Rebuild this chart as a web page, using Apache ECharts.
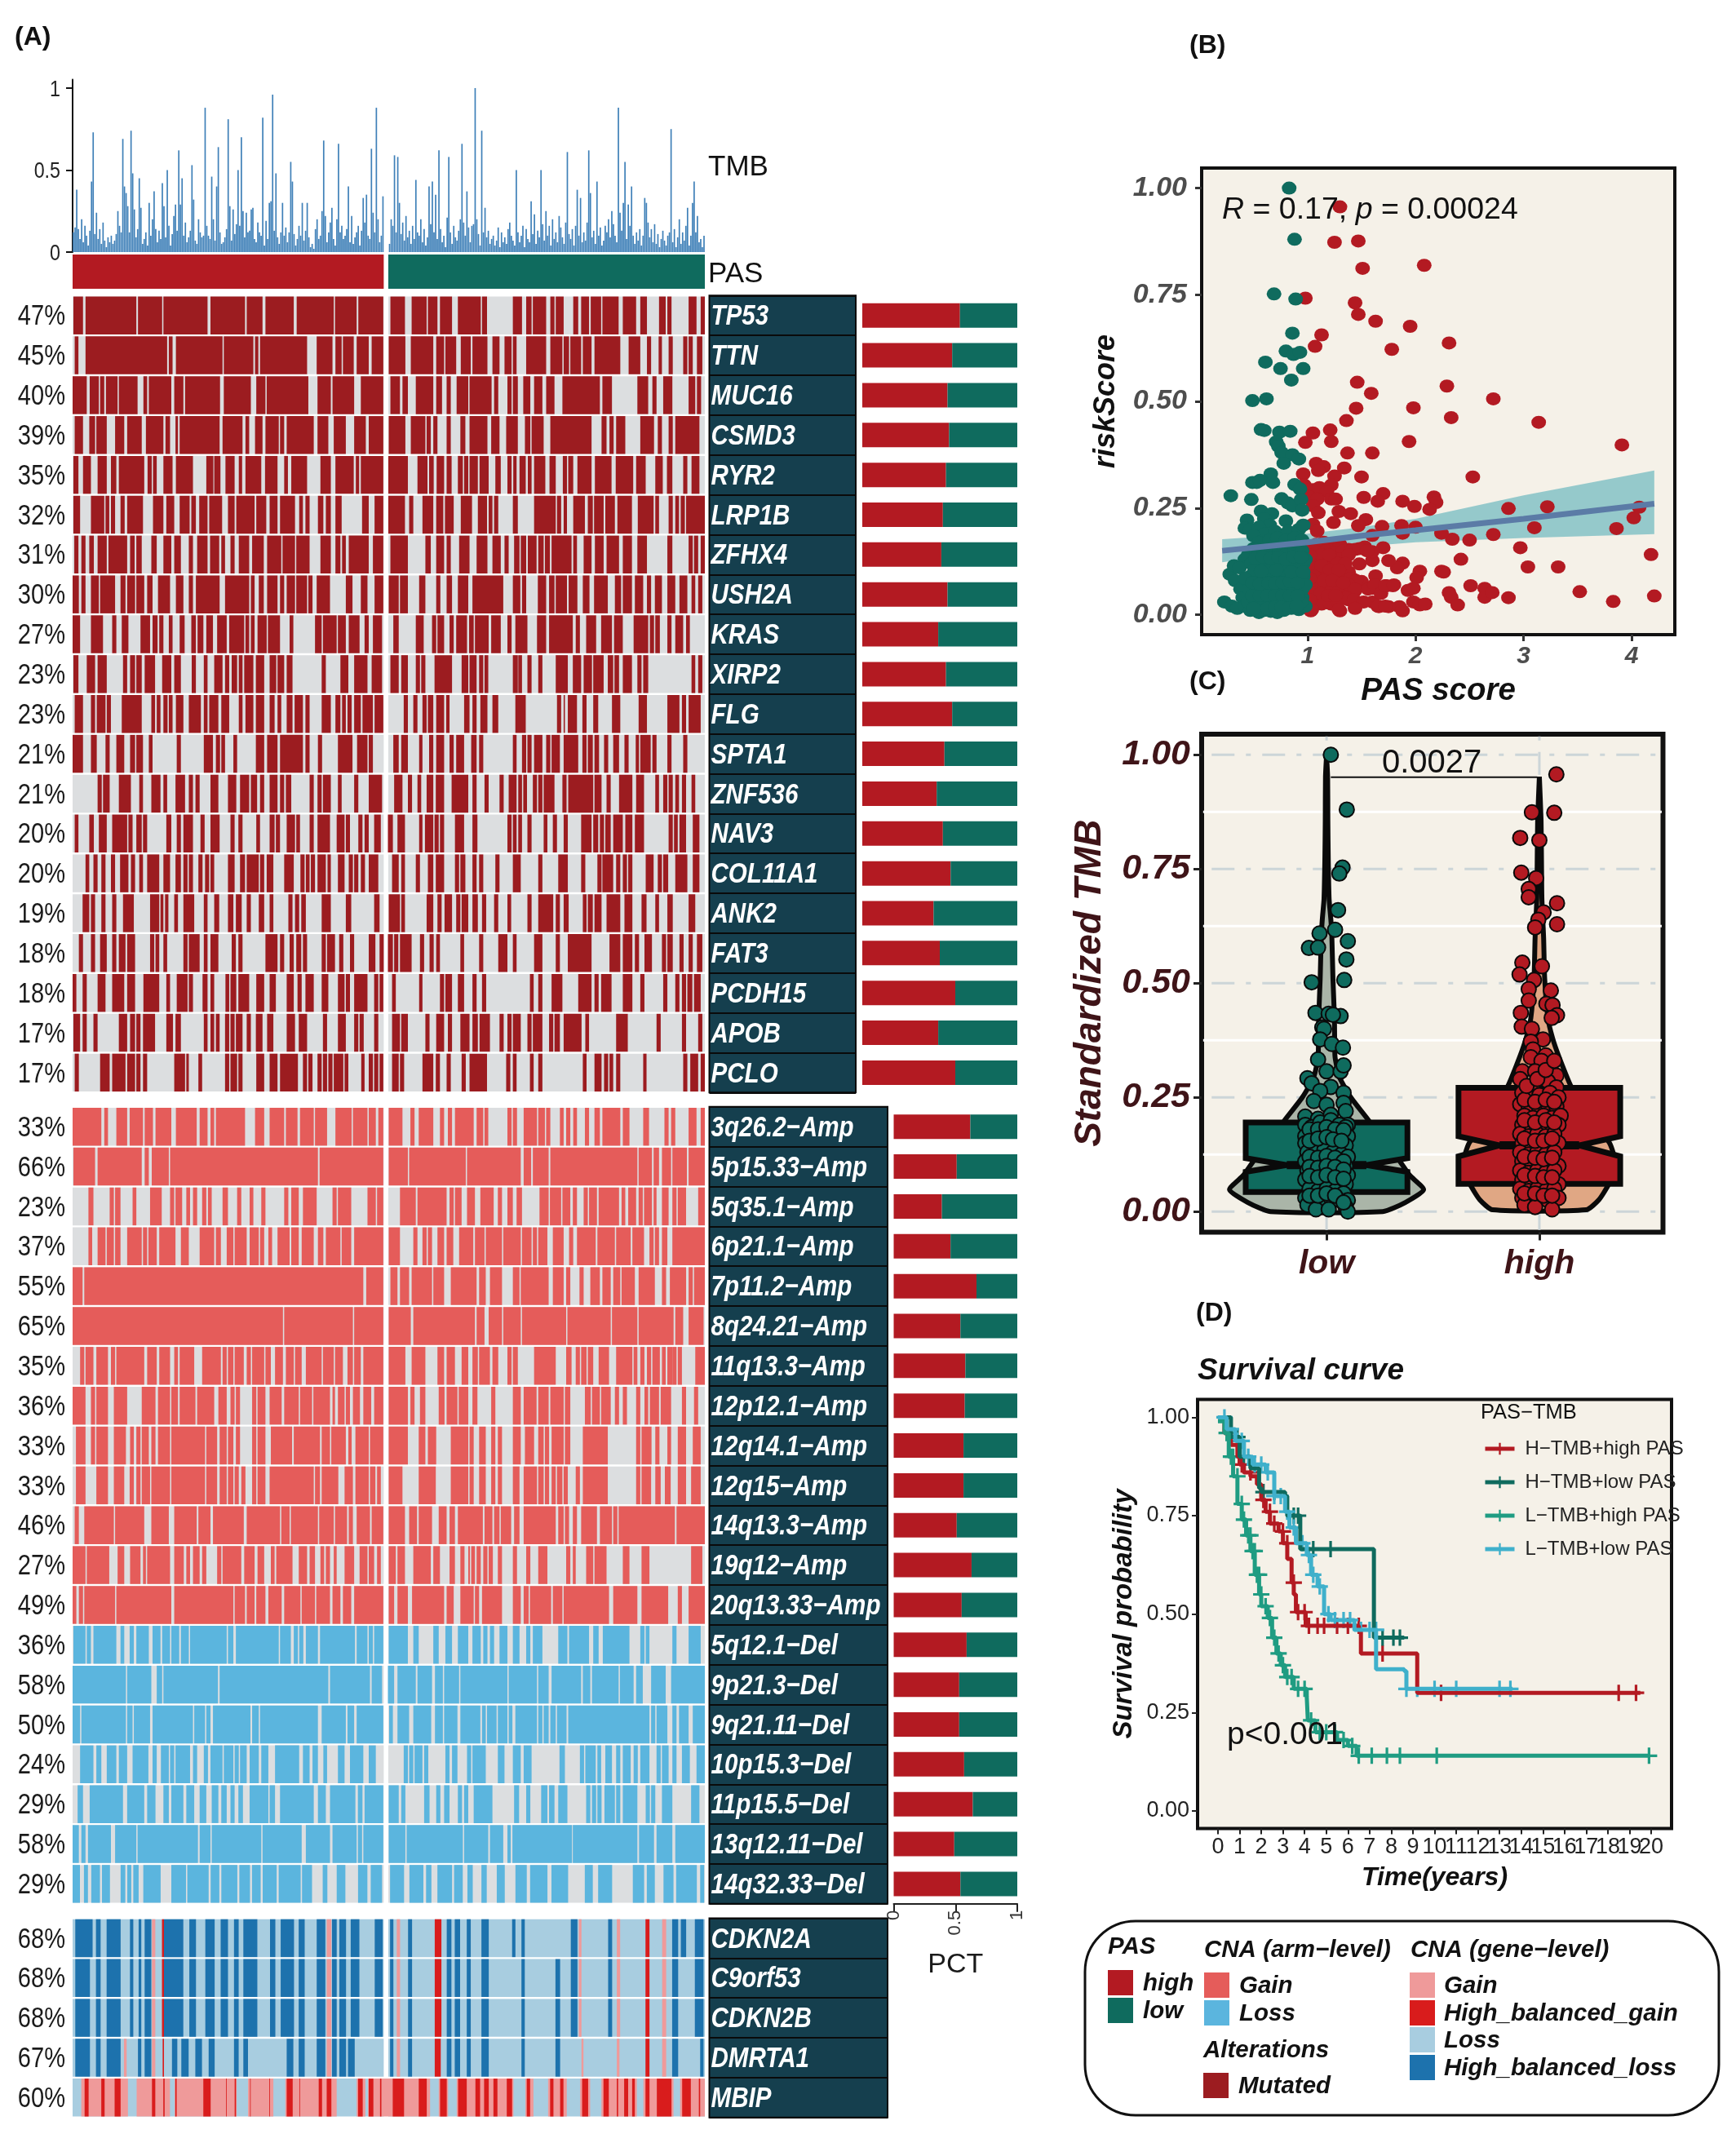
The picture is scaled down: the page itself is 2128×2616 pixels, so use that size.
<!DOCTYPE html>
<html>
<head>
<meta charset="utf-8">
<title>Oncoprint, scatter, violin and survival</title>
<script src="https://cdn.jsdelivr.net/npm/echarts@6/dist/echarts.min.js"></script>
<style>
html, body { margin: 0; padding: 0; background: #fff; }
#chart { width: 2128px; height: 2616px; }
</style>
</head>
<body>
<div id="chart"></div>
<script>
// ---------- data ----------
var tmbHigh = [
.12,.15,.38,.14,.08,.2,.06,.16,.1,.04,.13,.43,.73,.11,.24,.08,.14,.05,.18,.07,
.03,.09,.06,.1,.05,.07,.11,.25,.16,.12,.69,.4,.36,.28,.12,.74,.48,.26,.09,.14,
.45,.27,.05,.08,.12,.04,.3,.1,.2,.37,.14,.06,.13,.08,.42,.28,.09,.5,.16,.04,
.11,.22,.29,.13,.62,.29,.45,.1,.18,.06,.09,.13,.53,.32,.07,.05,.2,.12,.09,.1,
.88,.16,.1,.08,.46,.2,.07,.4,.64,.12,.05,.06,.09,.14,.81,.28,.07,.26,.11,.17,
.5,.16,.7,.25,.09,.24,.12,.13,.26,.27,.08,.06,.18,.12,.1,.82,.04,.19,.08,.3,
.31,.96,.13,.48,.09,.05,.12,.3,.1,.15,.06,.12,.55,.43,.11,.04,.08,.16,.1,.3,
.07,.13,.3,.09,.03,.05,.02,.14,.2,.08,.1,.25,.68,.22,.06,.12,.18,.27,.08,.04,
.2,.66,.12,.16,.08,.1,.14,.4,.06,.22,.05,.09,.12,.16,.04,.13,.33,.18,.35,.1,
.08,.63,.24,.12,.88,.2,.06,.1,.34];
var tmbLow = [
.05,.2,.16,.59,.12,.58,.3,.11,.18,.07,.22,.09,.13,.05,.16,.08,.44,.12,.1,.2,
.06,.14,.04,.09,.4,.17,.43,.12,.35,.08,.62,.14,.06,.1,.03,.21,.58,.12,.05,.16,
.09,.07,.13,.2,.66,.18,.1,.37,.15,.06,.16,.17,1,.2,.11,.04,.74,.12,.27,.09,
.13,.05,.08,.1,.04,.07,.15,.03,.12,.06,.09,.05,.14,.18,.1,.07,.04,.5,.12,.06,
.1,.16,.03,.14,.08,.06,.31,.11,.23,.05,.13,.09,.5,.17,.07,.25,.1,.16,.04,.2,
.08,.12,.06,.22,.15,.09,.05,.18,.61,.11,.08,.14,.04,.16,.38,.1,.33,.06,.12,.07,
.18,.62,.36,.09,.13,.05,.43,.1,.15,.04,.07,.16,.12,.2,.09,.25,.17,.1,.06,.88,
.24,.13,.3,.55,.08,.29,.16,.4,.1,.05,.12,.07,.14,.04,.1,.33,.3,.18,.09,.14,
.06,.17,.05,.11,.03,.08,.13,.07,.04,.1,.12,.75,.06,.14,.03,.09,.2,.05,.12,.07,
.16,.27,.04,.1,.3,.43,.12,.22,.06,.08,.03,.1];

var mutGenes = ['TP53','TTN','MUC16','CSMD3','RYR2','LRP1B','ZFHX4','USH2A','KRAS','XIRP2','FLG','SPTA1','ZNF536','NAV3','COL11A1','ANK2','FAT3','PCDH15','APOB','PCLO'];
var mutPct = ['47%','45%','40%','39%','35%','32%','31%','30%','27%','23%','23%','21%','21%','20%','20%','19%','18%','18%','17%','17%'];
var mutHighShare = [.63,.58,.55,.56,.54,.52,.51,.55,.49,.54,.58,.53,.48,.52,.57,.46,.50,.60,.49,.60];

// mutated stretches along the sample axis (high group up to 765, low group from 776)
var mutRuns = [
[[20,43],[49,171],[175,233],[236,342],[349,432],[436,474],[481,549],[556,645],[648,700],[704,764],[781,816],[832,868],[871,894],[900,929],[943,998],[1001,1013],[1075,1097],[1107,1120],[1123,1155],[1165,1175],[1178,1197],[1220,1232],[1239,1258],[1262,1287],[1290,1329],[1339,1371],[1381,1397],[1426,1442],[1446,1456],[1497,1516],[1526,1536]],
[[23,32],[49,245],[249,258],[266,378],[381,452],[456,464],[468,581],[604,642],[649,664],[667,693],[700,729],[736,764],[777,817],[830,884],[891,910],[913,939],[950,974],[978,1014],[1026,1043],[1055,1072],[1075,1084],[1107,1155],[1165,1194],[1197,1210],[1213,1239],[1243,1264],[1271,1333],[1353,1381],[1397,1407],[1425,1433],[1449,1459],[1484,1494],[1497,1507],[1517,1530]],
[[18,52],[59,81],[84,94],[98,126],[129,174],[188,197],[201,255],[262,284],[288,372],[381,446],[459,481],[484,584],[606,638],[642,694],[710,764],[781,804],[810,823],[842,884],[891,905],[916,926],[940,968],[971,1024],[1030,1040],[1062,1072],[1075,1087],[1100,1117],[1126,1146],[1155,1175],[1194,1284],[1290,1313],[1374,1400],[1410,1420],[1436,1458],[1497,1513],[1517,1527]],
[[23,43],[58,72],[75,100],[120,142],[149,184],[194,236],[241,252],[265,271],[275,371],[378,426],[433,442],[456,474],[481,513],[516,526],[532,597],[606,632],[645,674],[694,722],[729,764],[777,817],[830,865],[868,878],[884,894],[916,926],[949,961],[971,1014],[1023,1043],[1059,1087],[1104,1117],[1120,1149],[1165,1264],[1288,1300],[1307,1317],[1323,1345],[1381,1414],[1423,1433],[1449,1459],[1465,1523]],
[[20,32],[43,62],[78,100],[110,123],[129,190],[198,208],[211,220],[236,258],[266,307],[339,356],[358,373],[385,407],[417,425],[433,471],[480,510],[526,535],[543,581],[613,638],[649,693],[698,706],[710,764],[776,823],[846,870],[874,885],[892,910],[916,928],[943,955],[958,968],[971,991],[995,1017],[1033,1046],[1062,1072],[1076,1084],[1091,1106],[1111,1120],[1126,1153],[1163,1178],[1195,1205],[1208,1220],[1230,1264],[1272,1312],[1322,1364],[1371,1394],[1417,1435],[1445,1458],[1484,1494],[1504,1523]],
[[20,36],[62,94],[97,106],[110,120],[133,143],[149,187],[211,236],[243,262],[275,299],[303,314],[322,342],[346,377],[391,407],[411,455],[459,483],[491,510],[516,552],[562,571],[577,587],[607,620],[626,638],[649,664],[713,729],[743,764],[776,816],[826,836],[858,884],[891,908],[912,933],[950,977],[991,1013],[1017,1026],[1030,1040],[1075,1087],[1126,1178],[1181,1191],[1197,1205],[1220,1248],[1255,1267],[1270,1293],[1297,1320],[1326,1361],[1375,1413],[1417,1426],[1449,1459],[1465,1474],[1478,1488],[1491,1536]],
[[22,32],[39,49],[58,69],[78,100],[104,149],[156,167],[171,184],[207,220],[236,255],[262,278],[297,307],[317,342],[348,370],[375,384],[397,407],[417,442],[449,477],[485,519],[522,552],[555,587],[613,638],[649,661],[665,674],[681,729],[739,764],[781,823],[865,878],[891,910],[916,926],[946,971],[988,1014],[1026,1046],[1055,1065],[1078,1091],[1094,1107],[1111,1132],[1136,1149],[1152,1164],[1168,1216],[1220,1229],[1245,1264],[1272,1293],[1300,1330],[1339,1361],[1374,1397],[1446,1458],[1497,1507],[1510,1520],[1526,1536]],
[[18,33],[39,49],[62,81],[84,120],[133,145],[149,168],[171,190],[197,210],[223,252],[266,284],[297,307],[314,371],[384,442],[446,455],[465,477],[485,510],[516,526],[532,552],[555,581],[584,594],[604,636],[674,690],[710,726],[743,764],[777,801],[804,823],[850,865],[891,901],[916,929],[943,968],[978,1052],[1075,1093],[1097,1107],[1135,1155],[1162,1175],[1178,1205],[1209,1230],[1243,1259],[1270,1303],[1320,1335],[1339,1361],[1368,1388],[1397,1407],[1416,1433],[1446,1465],[1475,1494],[1504,1513],[1520,1530]],
[[18,36],[62,91],[113,123],[136,152],[181,204],[210,222],[226,236],[249,258],[275,287],[303,314],[318,332],[339,355],[365,388],[394,430],[433,442],[446,455],[462,484],[487,516],[539,548],[600,616],[619,652],[655,674],[681,707],[719,729],[739,761],[788,801],[842,861],[881,891],[894,910],[923,933],[939,965],[970,981],[984,1017],[1023,1046],[1062,1072],[1081,1110],[1133,1155],[1162,1219],[1226,1236],[1251,1275],[1287,1313],[1318,1339],[1365,1400],[1404,1414],[1417,1428],[1446,1456],[1465,1484],[1491,1500]],
[[20,32],[52,72],[78,100],[139,149],[156,168],[171,184],[191,216],[233,255],[262,278],[304,314],[333,342],[358,378],[384,394],[400,413],[417,426],[430,452],[458,478],[491,507],[510,526],[532,546],[616,626],[661,680],[694,726],[736,761],[781,801],[807,823],[842,852],[855,865],[887,929],[952,968],[971,988],[994,1004],[1007,1016],[1075,1087],[1088,1097],[1110,1120],[1136,1146],[1178,1207],[1219,1239],[1245,1265],[1268,1293],[1303,1316],[1319,1330],[1339,1361],[1374,1384],[1388,1400],[1504,1513],[1520,1530]],
[[23,43],[62,72],[76,97],[100,110],[136,184],[207,216],[220,229],[236,246],[249,258],[266,284],[297,326],[333,342],[346,368],[375,394],[417,426],[433,452],[458,478],[491,503],[510,519],[532,546],[551,571],[577,587],[616,638],[649,661],[665,674],[678,688],[694,710],[714,739],[743,764],[813,823],[836,846],[858,868],[871,884],[891,910],[915,923],[958,971],[978,988],[997,1014],[1026,1040],[1081,1106],[1181,1191],[1197,1200],[1207,1229],[1242,1252],[1268,1280],[1313,1333],[1377,1397],[1446,1475],[1481,1491],[1497,1526]],
[[18,43],[62,76],[97,107],[123,142],[156,168],[171,187],[201,210],[268,278],[333,355],[362,372],[375,384],[404,413],[458,478],[485,510],[516,571],[577,587],[607,617],[655,690],[701,726],[729,739],[788,801],[807,823],[850,858],[874,884],[891,910],[923,933],[939,958],[975,988],[994,1004],[1075,1084],[1097,1107],[1110,1120],[1126,1146],[1155,1165],[1168,1188],[1197,1232],[1242,1252],[1255,1267],[1271,1282],[1294,1304],[1316,1330],[1343,1353],[1370,1378],[1381,1406],[1410,1420],[1446,1456],[1484,1494]],
[[78,88],[91,107],[129,158],[178,187],[207,229],[236,245],[265,288],[297,307],[313,323],[349,368],[391,411],[420,442],[446,461],[468,478],[491,510],[516,526],[530,543],[587,597],[606,616],[619,638],[655,664],[694,704],[729,761],[790,810],[823,833],[846,855],[868,884],[890,910],[928,968],[978,988],[1007,1017],[1043,1053],[1065,1084],[1088,1097],[1100,1109],[1123,1133],[1136,1146],[1149,1175],[1194,1204],[1208,1268],[1271,1288],[1300,1310],[1330,1362],[1371,1390],[1417,1426],[1436,1446],[1449,1459],[1465,1474],[1481,1491],[1504,1513]],
[[23,32],[58,69],[81,100],[113,149],[152,162],[171,184],[187,197],[243,255],[268,278],[284,307],[325,335],[349,371],[397,407],[416,426],[459,468],[491,503],[506,516],[532,552],[555,564],[587,597],[606,636],[652,671],[674,684],[704,714],[719,729],[742,758],[775,787],[798,816],[850,858],[864,884],[887,897],[900,910],[936,958],[978,990],[1062,1072],[1075,1084],[1088,1097],[1110,1120],[1149,1158],[1171,1181],[1197,1207],[1239,1264],[1268,1280],[1284,1294],[1297,1310],[1316,1339],[1345,1362],[1368,1390],[1449,1459],[1462,1471],[1475,1491],[1507,1523]],
[[49,58],[68,78],[87,97],[110,120],[132,152],[158,168],[178,187],[197,226],[236,252],[265,278],[284,294],[297,307],[320,330],[336,346],[349,358],[391,407],[420,432],[436,465],[468,478],[484,500],[526,549],[565,575],[578,587],[590,600],[606,626],[630,638],[655,671],[681,691],[694,704],[710,720],[729,752],[785,801],[807,816],[842,852],[871,884],[890,910],[936,946],[949,961],[978,988],[994,1004],[1033,1043],[1075,1094],[1136,1146],[1184,1207],[1239,1249],[1278,1288],[1290,1316],[1323,1333],[1339,1349],[1352,1362],[1394,1413],[1423,1433],[1436,1448],[1465,1494],[1507,1523]],
[[42,58],[62,72],[87,97],[113,123],[139,165],[204,226],[229,236],[240,248],[262,271],[284,310],[333,342],[358,370],[391,404],[410,424],[436,446],[465,478],[491,500],[536,546],[552,562],[567,578],[616,638],[674,687],[742,755],[777,804],[807,816],[868,884],[894,904],[911,929],[939,949],[952,968],[978,991],[1001,1011],[1030,1040],[1062,1071],[1110,1120],[1136,1172],[1178,1188],[1197,1209],[1243,1252],[1255,1267],[1271,1288],[1300,1333],[1343,1362],[1384,1396],[1417,1426],[1446,1459],[1497,1513]],
[[33,43],[62,72],[84,100],[113,123],[129,145],[149,168],[204,214],[217,226],[236,245],[284,294],[297,323],[333,342],[349,368],[400,410],[416,426],[481,510],[516,526],[539,549],[555,567],[571,581],[616,626],[629,648],[658,668],[684,694],[729,745],[755,765],[775,787],[790,800],[804,832],[852,862],[875,885],[891,900],[949,958],[994,1004],[1040,1062],[1075,1084],[1126,1146],[1178,1188],[1207,1264],[1307,1333],[1339,1362],[1368,1378],[1391,1409],[1433,1443],[1446,1459],[1475,1485],[1497,1507],[1517,1530]],
[[18,27],[42,52],[78,97],[113,142],[149,168],[188,226],[243,252],[268,294],[297,307],[330,342],[349,358],[385,394],[397,411],[416,442],[459,478],[491,506],[532,549],[558,568],[577,597],[616,632],[655,671],[674,684],[694,726],[742,752],[755,764],[785,794],[850,858],[900,910],[913,929],[943,958],[978,988],[1001,1011],[1116,1125],[1136,1146],[1168,1194],[1232,1264],[1271,1281],[1287,1312],[1339,1362],[1381,1391],[1436,1446],[1465,1475],[1481,1491],[1494,1506],[1510,1526]],
[[20,36],[42,52],[68,78],[129,149],[156,168],[171,181],[187,216],[243,259],[265,278],[333,342],[349,358],[362,371],[384,394],[397,407],[410,426],[436,446],[458,474],[485,500],[532,552],[561,581],[619,629],[655,674],[694,704],[707,717],[742,752],[785,804],[807,823],[865,875],[891,910],[919,929],[949,971],[978,991],[995,1020],[1043,1053],[1062,1072],[1075,1094],[1110,1120],[1123,1146],[1162,1172],[1175,1188],[1197,1240],[1249,1258],[1323,1351],[1420,1430],[1481,1491],[1520,1530]],
[[23,33],[84,107],[113,145],[149,168],[171,181],[187,197],[262,288],[291,297],[320,329],[384,394],[397,413],[416,426],[459,478],[491,510],[516,559],[571,581],[584,594],[606,616],[619,629],[632,642],[645,668],[671,680],[711,719],[729,739],[742,752],[755,764],[785,801],[804,814],[858,884],[890,900],[916,926],[952,962],[971,1013],[1059,1069],[1075,1084],[1116,1125],[1136,1146],[1243,1252],[1271,1288],[1294,1304],[1307,1316],[1323,1333],[1388,1396],[1484,1494],[1501,1520],[1526,1536]]
];

var armNames = ['3q26.2\u2212Amp','5p15.33\u2212Amp','5q35.1\u2212Amp','6p21.1\u2212Amp','7p11.2\u2212Amp','8q24.21\u2212Amp','11q13.3\u2212Amp','12p12.1\u2212Amp','12q14.1\u2212Amp','12q15\u2212Amp','14q13.3\u2212Amp','19q12\u2212Amp','20q13.33\u2212Amp','5q12.1\u2212Del','9p21.3\u2212Del','9q21.11\u2212Del','10p15.3\u2212Del','11p15.5\u2212Del','13q12.11\u2212Del','14q32.33\u2212Del'];
var armPct = ['33%','66%','23%','37%','55%','65%','35%','36%','33%','33%','46%','27%','49%','36%','58%','50%','24%','29%','58%','29%'];
var armHighShare = [.62,.51,.39,.46,.67,.54,.58,.575,.565,.565,.51,.63,.55,.59,.53,.53,.57,.64,.49,.54];

var armGainRuns = [
[[18,87],[94,103],[123,149],[155,187],[191,211],[217,255],[266,316],[323,342],[349,358],[362,432],[456,478],[491,526],[530,558],[564,597],[600,629],[649,688],[691,726],[729,746],[752,764],[777,810],[829,839],[849,884],[900,910],[919,929],[936,981],[988,1004],[1007,1016],[1062,1072],[1075,1085],[1101,1133],[1136,1152],[1155,1165],[1188,1197],[1203,1213],[1220,1229],[1248,1258],[1271,1284],[1290,1333],[1339,1355],[1388,1402],[1439,1449],[1455,1465],[1497,1516],[1526,1536]],
[[20,72],[78,184],[191,201],[208,249],[252,607],[611,764],[777,823],[826,962],[965,1094],[1101,1119],[1123,1161],[1165,1374],[1377,1409],[1413,1426],[1433,1455],[1458,1493],[1497,1536]],
[[56,68],[107,117],[120,133],[162,171],[204,232],[252,262],[265,281],[291,300],[307,317],[329,339],[343,352],[378,391],[413,423],[443,452],[471,481],[526,536],[543,561],[571,604],[642,652],[655,687],[726,746],[749,764],[804,842],[846,916],[923,933],[936,952],[965,984],[997,1029],[1039,1049],[1062,1075],[1084,1097],[1139,1161],[1164,1191],[1194,1213],[1219,1229],[1245,1255],[1258,1277],[1281,1330],[1336,1345],[1352,1371],[1377,1387],[1390,1409],[1413,1420],[1433,1449],[1458,1468],[1471,1491],[1520,1536]],
[[56,65],[78,97],[100,117],[120,133],[149,184],[187,197],[200,220],[226,265],[278,297],[323,358],[362,374],[388,404],[407,436],[443,465],[468,478],[488,497],[510,539],[543,561],[568,597],[607,620],[626,661],[664,687],[694,764],[777,804],[836,846],[858,868],[871,881],[894,910],[916,932],[946,980],[984,1007],[1010,1049],[1052,1094],[1097,1120],[1123,1133],[1136,1158],[1171,1197],[1210,1220],[1229,1274],[1278,1320],[1323,1358],[1362,1390],[1403,1413],[1416,1426],[1433,1446],[1458,1536]],
[[18,42],[46,716],[723,764],[781,798],[804,826],[832,881],[884,910],[926,988],[994,1010],[1020,1049],[1075,1091],[1094,1161],[1171,1197],[1203,1213],[1235,1245],[1261,1284],[1290,1310],[1316,1333],[1336,1368],[1377,1416],[1433,1443],[1452,1491],[1497,1507],[1510,1536]],
[[18,523],[526,691],[694,764],[777,830],[836,984],[988,1007],[1017,1049],[1052,1094],[1097,1203],[1206,1310],[1313,1374],[1377,1461],[1465,1484],[1497,1533]],
[[36,46],[49,68],[75,103],[110,120],[123,190],[197,220],[226,252],[262,271],[275,310],[329,374],[378,388],[391,404],[407,429],[436,446],[449,478],[481,494],[504,523],[530,549],[552,568],[578,616],[619,645],[648,667],[678,691],[694,710],[716,764],[777,817],[832,865],[894,910],[916,936],[952,968],[978,991],[994,1020],[1026,1040],[1062,1072],[1075,1087],[1126,1178],[1203,1216],[1226,1236],[1239,1252],[1255,1268],[1281,1306],[1323,1362],[1365,1374],[1381,1391],[1397,1407],[1410,1428],[1433,1442],[1446,1458],[1458,1468],[1471,1481],[1513,1536]],
[[18,49],[62,72],[75,103],[117,149],[184,217],[223,252],[255,271],[275,313],[317,358],[368,388],[397,407],[410,420],[449,459],[462,481],[491,520],[526,561],[564,593],[596,636],[642,648],[655,671],[674,684],[691,708],[716,735],[742,764],[777,823],[829,839],[852,865],[897,911],[916,942],[945,968],[978,990],[1023,1033],[1075,1094],[1101,1132],[1136,1161],[1165,1197],[1200,1213],[1248,1262],[1265,1284],[1287,1310],[1320,1330],[1339,1349],[1371,1381],[1391,1400],[1404,1426],[1430,1455],[1481,1491],[1510,1520]],
[[26,49],[62,72],[75,103],[117,146],[156,165],[171,181],[184,201],[207,217],[223,252],[255,336],[339,365],[371,388],[391,404],[410,420],[449,459],[462,481],[494,545],[549,612],[616,636],[639,674],[680,688],[697,729],[732,764],[777,823],[849,865],[871,891],[926,968],[971,981],[994,1010],[1023,1033],[1039,1049],[1075,1094],[1104,1126],[1136,1149],[1152,1162],[1168,1197],[1200,1213],[1243,1303],[1371,1381],[1384,1408],[1417,1427],[1446,1455],[1471,1491],[1507,1526]],
[[26,49],[75,103],[117,142],[155,165],[171,181],[184,204],[207,252],[255,336],[339,365],[371,388],[391,404],[407,417],[423,433],[449,459],[462,481],[491,597],[600,612],[616,656],[671,691],[697,729],[732,745],[749,758],[777,810],[849,890],[926,968],[971,981],[994,1010],[1023,1033],[1039,1049],[1075,1091],[1101,1133],[1136,1149],[1152,1162],[1168,1178],[1181,1194],[1197,1207],[1226,1236],[1243,1303],[1371,1381],[1384,1407],[1417,1430],[1440,1454],[1471,1491],[1503,1526]],
[[23,33],[46,117],[120,190],[207,249],[262,316],[320,349],[355,429],[436,516],[519,539],[542,607],[610,645],[648,677],[681,691],[700,732],[736,764],[777,816],[826,845],[849,881],[897,916],[923,936],[943,1003],[1007,1026],[1030,1043],[1046,1071],[1078,1091],[1101,1178],[1184,1197],[1200,1210],[1219,1229],[1239,1277],[1284,1313],[1316,1326],[1329,1464],[1468,1536]],
[[18,49],[52,106],[126,142],[156,181],[187,194],[197,252],[262,285],[291,300],[307,323],[329,339],[365,375],[378,423],[430,455],[462,478],[494,503],[507,546],[561,581],[587,600],[613,622],[626,636],[645,652],[671,694],[707,726],[729,742],[749,758],[777,794],[798,816],[836,878],[884,900],[923,936],[949,959],[968,972],[975,984],[988,998],[1004,1014],[1017,1027],[1039,1049],[1075,1085],[1107,1117],[1136,1158],[1203,1213],[1219,1226],[1251,1268],[1271,1300],[1339,1355],[1384,1403],[1503,1530]],
[[18,27],[33,43],[46,120],[123,255],[262,404],[407,432],[436,455],[459,481],[488,520],[526,565],[568,600],[603,636],[642,661],[667,687],[694,764],[777,790],[798,823],[833,910],[916,933],[949,981],[984,994],[1001,1049],[1075,1094],[1101,1113],[1116,1167],[1171,1194],[1197,1306],[1316,1374],[1384,1448],[1471,1481],[1497,1536]]
];
var armLossRuns = [
[[20,49],[52,62],[68,123],[133,142],[155,165],[171,201],[210,229],[233,252],[255,274],[278,297],[300,388],[391,404],[410,513],[516,542],[549,559],[562,572],[578,607],[612,696],[700,726],[729,739],[742,764],[777,823],[836,849],[884,897],[913,929],[943,968],[978,998],[1004,1014],[1020,1030],[1043,1062],[1075,1091],[1107,1117],[1123,1146],[1184,1206],[1210,1258],[1268,1281],[1291,1355],[1381,1391],[1394,1403],[1458,1468],[1497,1526]],
[[18,146],[149,207],[220,233],[236,367],[371,632],[636,732],[736,761],[775,790],[798,842],[846,881],[888,907],[910,946],[949,1062],[1065,1133],[1136,1161],[1168,1239],[1243,1261],[1265,1329],[1332,1365],[1371,1387],[1407,1442],[1455,1536]],
[[18,36],[39,146],[149,162],[165,204],[210,307],[310,336],[339,349],[355,445],[449,465],[468,607],[616,674],[678,694],[700,764],[778,787],[798,826],[836,879],[888,907],[910,942],[949,997],[1001,1010],[1013,1036],[1039,1062],[1065,1074],[1081,1133],[1136,1146],[1149,1161],[1165,1178],[1181,1204],[1208,1403],[1407,1417],[1420,1446],[1458,1468],[1474,1497],[1507,1536]],
[[36,68],[75,87],[100,123],[129,149],[162,200],[210,220],[230,249],[252,262],[265,300],[307,317],[333,343],[349,378],[381,404],[407,417],[420,436],[443,465],[471,488],[504,562],[571,587],[594,607],[620,629],[655,671],[684,716],[729,746],[813,823],[826,836],[839,858],[862,872],[913,923],[929,942],[965,975],[978,1010],[1039,1055],[1075,1094],[1101,1120],[1187,1200],[1236,1246],[1249,1274],[1278,1287],[1297,1313],[1323,1333],[1339,1358],[1365,1375],[1381,1403],[1420,1430],[1433,1449],[1458,1468],[1481,1500],[1516,1536]],
[[30,43],[59,139],[149,190],[197,217],[236,249],[255,284],[291,310],[323,339],[352,368],[375,388],[397,407],[416,427],[443,488],[491,504],[516,597],[607,626],[636,697],[703,714],[719,764],[777,801],[807,817],[862,875],[891,901],[910,923],[943,953],[958,968],[981,1026],[1078,1090],[1107,1117],[1143,1158],[1162,1175],[1184,1206],[1251,1261],[1265,1275],[1278,1288],[1295,1320],[1323,1333],[1339,1374],[1394,1404],[1407,1417],[1433,1458],[1503,1523]],
[[18,33],[39,49],[55,110],[120,171],[174,319],[323,349],[352,471],[474,568],[578,636],[642,700],[703,713],[716,764],[777,817],[820,955],[958,1016],[1020,1052],[1062,1070],[1074,1217],[1219,1374],[1378,1414],[1420,1458],[1465,1536]]
];

var cnaGenes = ['CDKN2A','C9orf53','CDKN2B','DMRTA1','MBIP'];
var cnaPct = ['68%','68%','68%','67%','60%'];
// the rows below were read in a second crop frame (109..1057), converted by fromCrop
var loss14qRuns = [[109,120],[126,132],[137,150],[153,165],[181,188],[191,197],[200,208],[215,241],[257,279],[281,313],[316,329],[332,356],[359,375],[378,391],[394,415],[418,451],[453,468],[484,491],[505,518],[537,551],[556,573],[585,606],[614,635],[639,647],[656,678],[681,694],[701,709],[722,730],[745,757],[773,790],[795,821],[827,852],[877,889],[897,918],[949,966],[970,982],[995,1010],[1014,1045],[1050,1056]];
var cnaDark = [
[[113,139],[144,151],[160,181],[195,200],[208,212],[217,227],[246,275],[284,294],[308,322],[331,342],[351,358],[365,386],[405,413],[421,441],[448,457],[475,488],[498,505],[509,519],[526,539],[562,574],[585,590],[612,618],[670,677],[682,690],[700,706],[722,733],[768,773],[782,787],[856,866],[912,918],[1008,1017],[1021,1029],[1042,1055]],
[[113,135],[144,151],[160,181],[195,200],[208,212],[217,227],[246,275],[284,294],[308,322],[331,342],[351,358],[365,386],[405,413],[421,441],[448,457],[475,488],[498,505],[509,519],[526,539],[562,574],[585,590],[612,618],[670,677],[682,690],[700,706],[722,733],[782,787],[833,840],[856,866],[912,918],[1008,1017],[1042,1055]],
[[113,135],[144,151],[160,181],[195,200],[208,212],[217,227],[246,275],[284,294],[308,322],[331,342],[351,358],[365,386],[405,413],[421,441],[448,457],[475,488],[498,505],[509,519],[526,539],[562,574],[585,590],[612,618],[670,677],[682,690],[700,706],[722,733],[782,787],[833,840],[856,866],[912,918],[1008,1017],[1042,1055]],
[[113,135],[144,151],[160,181],[207,212],[217,227],[258,266],[272,283],[293,303],[313,322],[351,358],[365,372],[430,440],[448,457],[475,488],[498,505],[509,519],[522,532],[585,590],[612,618],[670,677],[682,690],[700,706],[722,733],[782,787],[833,840],[1008,1017],[1050,1055]],
[]
];
var cnaPink = [
[[228,233],[490,497],[595,600],[868,872],[925,930],[993,999]],
[[228,233],[490,497],[595,600],[868,872],[925,930],[993,999]],
[[228,233],[490,497],[595,600],[868,872],[925,930],[993,999]],
[[186,190],[228,233],[490,497],[595,600],[872,875],[925,929],[993,999]],
[[122,192],[205,255],[262,355],[372,410],[428,505],[535,548],[552,645],[658,672],[685,770],[788,800],[822,850],[870,885],[902,955],[965,1010],[1020,1057]]
];
var cnaRed = [
[[243,246],[652,662],[968,974]],
[[243,246],[652,662],[968,974]],
[[243,246],[652,662],[968,974]],
[[244,246],[652,661],[968,974]],
[[127,133],[152,157],[172,181],[228,233],[245,247],[263,265],[305,316],[339,340],[352,354],[375,376],[404,405],[430,439],[449,450],[478,483],[490,497],[537,544],[553,560],[570,572],[589,606],[628,640],[660,670],[687,700],[713,720],[726,733],[740,746],[760,768],[790,795],[825,830],[840,845],[873,882],[905,913],[925,927],[936,942],[948,952],[968,974],[985,1007],[1023,1036],[1048,1050]]
];

// panel B
var scatterHigh = [[1.30,.956],[1.25,.873],[1.47,.876],[1.51,.812],[2.08,.819],[.98,.742],[1.44,.731],[1.47,.704],[1.63,.688],[1.95,.676],[2.31,.637],[1.13,.656],[1.07,.629],[1.78,.622],[1.46,.545],[1.59,.519],[2.29,.536],[2.72,.506],[1.45,.484],[1.98,.485],[2.33,.462],[1.36,.455],[3.14,.451],[1.21,.433],[1.05,.426],[1.22,.406],[.98,.404],[1.94,.406],[3.91,.398],[1.37,.379],[1.6,.379],[1.08,.355],[1.15,.347],[1.10,.338],[1.34,.344],[.96,.33],[1.25,.325],[1.5,.323],[2.53,.323],
[.97,.304],[1.05,.293],[1.11,.298],[1.22,.304],[1.18,.288],[1.01,.277],[1.09,.271],[1.22,.271],[1.26,.271],[1.70,.284],[1.52,.275],[1.65,.266],[1.88,.266],[1.99,.254],[2.17,.276],[2.19,.263],[2.13,.247],[1.05,.255],[1.1,.239],[1.29,.242],[1.4,.237],[1.24,.216],[1.05,.212],[1.54,.223],[1.47,.209],[1.69,.207],[1.09,.196],
[2.34,.177],[2.5,.175],[2.72,.188],[2.97,.157],[1.7,.157],[2.42,.13],[3.04,.112],[3.32,.112],[4.18,.141],[3.52,.054],[3.83,.031],[4.21,.044],[2.86,.04],[2.51,.068],[2.64,.062],[2.64,.041],[2.71,.052],[2.31,.052],[2.33,.041],[2.39,.023],[2.24,.102],[2.26,.1],[2.04,.102],[2.01,.087],[1.93,.057],[1.98,.062],[1.98,.03],[2.04,.023],[2.09,.025],[1.88,.009],[1.85,.019],[1.75,.019],[1.66,.019],[1.6,.03],[1.79,.068],[1.73,.068],[1.63,.091],[1.6,.062],[1.88,.121],[1.83,.11],[1.75,.127],[1.6,.127],[1.6,.148],[1.53,.159],[1.48,.119],[1.5,.078],[1.38,.1],[1.42,.084],[1.34,.143],[1.38,.153],[1.44,.153],[1.44,.057],[1.44,.03],[1.34,.046],[1.38,.035],[1.3,.009],[1.22,.025],[1.13,.025],[1.03,.009],[1.05,.041],[1.26,.089],[1.18,.094],[1.13,.068],[1.07,.084],[1.01,.057],
[2.86,.249],[3.22,.253],[3.1,.204],[3.86,.202],[4.02,.227],[4.07,.252],[2.24,.191],[1.88,.191],[1.87,.209],[2,.205],[1.6,.186],
[1.02,.16],[1.08,.165],[1.15,.17],[1.22,.16],[1.3,.165],[1.04,.14],[1.1,.145],[1.17,.15],[1.25,.145],[1.33,.15],[1.4,.15],[1.48,.155],[1.55,.15],[1.02,.12],[1.08,.125],[1.15,.13],[1.22,.125],[1.3,.13],[1.38,.14],[1.03,.1],[1.1,.105],[1.17,.11],[1.25,.105],[1.32,.09],[1.04,.08],[1.11,.085],[1.19,.09],[1.27,.09],[1.36,.1],[1.4,.085],[1.45,.08],[1.03,.06],[1.09,.065],[1.15,.06],[1.23,.06],[1.3,.06],[1.38,.07],[1.44,.06],[1.05,.035],[1.12,.03],[1.2,.03],[1.28,.03],[1.36,.04],[1.43,.035],[1.52,.03],[1.04,.012],[1.29,.012],[1.44,.015],[1.65,.02],[1.72,.02],[1.56,.06],[1.62,.07],[1.68,.05],[1.72,.068],[1.8,.07],
[1.06,.15],[1.13,.14],[1.2,.14],[1.28,.12],[1.35,.12],[1.06,.11],[1.13,.115],[1.21,.105],[1.29,.105],[1.06,.09],[1.15,.08],[1.23,.08],[1.06,.05],[1.12,.05],[1.19,.045],[1.26,.045],[1.33,.075],[1.02,.14],[1.02,.085],[1.02,.035]];
var scatterLow = [[.83,1.0],[.88,.88],[.69,.752],[.89,.74],[.86,.66],[.8,.618],[.87,.61],[.93,.615],[.61,.592],[.75,.577],[.96,.577],[.85,.55],[.49,.502],[.62,.506],[.57,.434],[.6,.432],[.74,.428],[.84,.43],[.71,.405],[.73,.395],[.76,.38],[.86,.375],[.92,.365],[.78,.355],[.66,.33],[.49,.31],[.53,.31],[.56,.315],[.68,.31],[.88,.305],[.93,.295],[.29,.279],[.48,.27],[.76,.272],[.82,.262],[.86,.255],[.94,.27],[.95,.245],[.57,.243],[.67,.237],[.44,.222],[.6,.225],[.65,.21],[.8,.22],[.42,.203],[.47,.2],[.55,.205],[.61,.19],[.7,.195],[.82,.195],[.92,.2],[.96,.21],[.5,.185],[.55,.17],[.65,.175],[.72,.18],[.8,.175],[.88,.18],[.95,.175],
[.23,.03],[.3,.02],[.35,.015],[.28,.095],[.32,.115],[.42,.13],[.37,.11],[.33,.08],[.38,.06],[.45,.14],[.5,.155],[.4,.04],[.42,.02],[.47,.01],[.55,.005],[.66,.008],[.72,.005],[.78,.01],[.85,.015],[.92,.012],[.98,.02],[.95,.04],
[.45,.03],[.52,.025],[.59,.03],[.66,.028],[.73,.03],[.8,.025],[.87,.032],[.94,.03],[.46,.06],[.53,.055],[.6,.06],[.67,.058],[.74,.06],[.81,.055],[.88,.062],[.95,.06],[.47,.09],[.54,.085],[.61,.09],[.68,.088],[.75,.09],[.82,.085],[.89,.092],[.96,.09],[.48,.12],[.55,.115],[.62,.12],[.69,.118],[.76,.12],[.83,.115],[.9,.122],[.96,.12],[.53,.145],[.6,.15],[.67,.148],[.74,.15],[.81,.145],[.88,.152],[.95,.15],[.42,.085],[.5,.04],[.58,.075],[.64,.105],[.71,.075],[.78,.105],[.85,.07],[.92,.105],[.6,.01],[.98,.07],[.98,.13],
[.49,.045],[.56,.045],[.63,.045],[.7,.045],[.77,.045],[.84,.045],[.91,.045],[.49,.075],[.56,.072],[.64,.074],[.7,.074],[.77,.075],[.84,.078],[.91,.075],[.51,.105],[.57,.102],[.71,.105],[.85,.1],[.52,.132],[.59,.135],[.66,.132],[.73,.135],[.8,.13],[.87,.136],[.94,.135],[.5,.015],[.63,.015],[.7,.018],[.76,.018],[.83,.016],[.9,.02],[.96,.1]];
var fitX = [.21,1,1.5,2,3,4.21];
var fitLine = [.15,.17,.185,.198,.225,.26];
var fitUpper = [.177,.19,.205,.225,.28,.338];
var fitLower = [.123,.15,.16,.17,.18,.189];

// panel C
var violinLowY = [0,.02,.048,.08,.113,.15,.2,.25,.295,.338,.38,.424,.51,.6,.64,.684,.77,.857,.952,1];
var violinLow = [.264,.37,.456,.39,.34,.27,.197,.114,.06,.04,.038,.037,.03,.025,.02,.012,.008,.006,.005,0];
var violinHighY = [.004,.026,.06,.1,.15,.2,.273,.338,.38,.424,.51,.6,.684,.77,.857,.952];
var violinHigh = [.22,.28,.326,.36,.33,.24,.15,.093,.062,.04,.025,.02,.012,.01,.008,0];
var boxLow = {q1: .043, med: .102, q3: .195, notchLo: .087, notchHi: .117};
var boxHigh = {q1: .061, med: .145, q3: .271, notchLo: .121, notchHi: .165};
var jitterLow = [[1.02,1],[1.095,.88],[1.075,.753],[1.06,.74],[1.054,.66],[1.04,.617],[.967,.609],[1.1,.592],[.917,.577],[.96,.578],[1.093,.552],[.93,.502],[1.083,.507],[.948,.435],[1.01,.433],[1.066,.428],[1.03,.431],[.98,.403],[.988,.4],[.97,.377],[1.025,.367],[1.077,.359],[.96,.333],[1,.307],[1.066,.307],[1.08,.32],[.91,.292],[.93,.281],[1.02,.273],[.97,.264],[1.08,.26],[.94,.242],[1,.234],[1.08,.238],[1.09,.22],[.9,.208],[.96,.203],[1.02,.212],[1.1,.19],
[.9,.19],[.93,.185],[.97,.195],[1.02,.2],[1.06,.19],[1.09,.185],[.9,.165],[.94,.17],[.98,.175],[1.03,.175],[1.07,.17],[1.1,.165],[.9,.15],[.93,.145],[.97,.155],[1.01,.15],[1.05,.15],[1.09,.145],[.91,.13],[.95,.13],[.99,.135],[1.03,.13],[1.07,.125],[1.1,.12],[.9,.11],[.94,.105],[.98,.11],[1.02,.115],[1.06,.105],[1.09,.1],[.91,.09],[.95,.085],[.99,.09],[1.03,.09],[1.07,.085],[1.1,.08],[.9,.07],[.94,.065],[.97,.07],[1.01,.07],[1.05,.065],[1.09,.06],[.92,.05],[.96,.045],[1,.05],[1.04,.045],[1.08,.04],[1.1,.025],[.9,.03],[.94,.025],[.98,.03],[1.02,.03],[1.06,.025],[.91,.015],[.95,.005],[1.01,.005],[1.09,.01],[1.1,0],
[.92,.18],[.96,.18],[1,.185],[1.04,.18],[1.08,.178],[.92,.155],[.96,.16],[1,.163],[1.03,.158],[1.07,.155],[.92,.12],[.96,.118],[1,.122],[1.04,.118],[1.08,.11],[.92,.098],[.96,.096],[1,.1],[1.04,.098],[1.08,.092],[.92,.078],[.96,.075],[1,.08],[1.04,.075],[1.08,.072],[.92,.035],[.96,.035],[1,.04],[1.04,.035],[1.08,.02]];
var jitterHigh = [[2.08,.957],[1.965,.874],[2.07,.873],[1.91,.818],[2,.813],[1.915,.742],[1.985,.73],[1.95,.706],[1.95,.688],[2.083,.675],[2.02,.655],[1.995,.639],[1.98,.622],[2.083,.629],[1.92,.545],[2.012,.537],[1.907,.519],[1.975,.507],[1.95,.487],[2.054,.484],[1.95,.462],[2.033,.455],[2.062,.452],[1.913,.435],[2.083,.43],[2.058,.424],[1.917,.405],[1.965,.4],[2.017,.377],[1.96,.372],[1.97,.355],[2.03,.342],[1.96,.338],[2.01,.33],[1.92,.307],[1.98,.307],[2.08,.298],[1.91,.29],[2.04,.285],[1.97,.277],[2.08,.272],
[1.92,.26],[1.96,.25],[2.0,.255],[2.05,.26],[2.09,.25],[1.91,.235],[1.95,.23],[2,.225],[2.04,.235],[2.08,.23],[1.93,.21],[1.97,.205],[2.02,.21],[2.06,.205],[2.1,.21],[1.92,.19],[1.96,.185],[2,.19],[2.04,.185],[2.09,.19],[1.91,.17],[1.95,.165],[1.99,.17],[2.03,.165],[2.07,.17],[1.92,.15],[1.96,.145],[2,.15],[2.04,.145],[2.09,.15],[1.91,.13],[1.95,.125],[1.99,.13],[2.03,.125],[2.07,.13],[1.92,.11],[1.96,.105],[2,.11],[2.04,.105],[2.09,.1],[1.91,.09],[1.95,.085],[1.99,.09],[2.03,.085],[2.07,.09],[1.92,.07],[1.96,.065],[2,.07],[2.04,.065],[2.09,.06],[1.91,.05],[1.95,.045],[1.99,.05],[2.03,.045],[2.07,.05],[1.92,.03],[1.96,.025],[2,.03],[2.04,.025],[2.09,.03],[1.93,.015],[1.98,.01],[2.06,.005],
[1.93,.245],[1.98,.24],[2.03,.245],[2.07,.24],[1.93,.2],[1.98,.195],[2.03,.2],[2.07,.195],[1.93,.16],[1.98,.155],[2.02,.155],[2.06,.16],[1.93,.12],[1.98,.118],[2.02,.115],[2.06,.118],[1.93,.08],[1.98,.078],[2.02,.075],[2.06,.075],[1.93,.04],[1.98,.04],[2.02,.035],[2.06,.035],[1.94,.275],[1.99,.29],[2.03,.31],[2.07,.33]];
var cGridMajor = [0,.25,.5,.75,1];
var cGridMinor = [.125,.375,.625,.875];
var cGroups = [1,2];

// panel D, [years, survival]
var kmHH = [[0,1],[.3,.96],[.6,.93],[.9,.9],[1,.88],[1.2,.86],[1.5,.85],[1.8,.83],[2,.79],[2.2,.76],[2.4,.73],[2.8,.71],[3,.68],[3.2,.64],[3.4,.58],[3.5,.55],[3.6,.505],[4.05,.47],[6.5,.46],[6.6,.40],[9.2,.30],[19.5,.30]];
var kmHL = [[0,1],[.6,.95],[1,.9],[1.5,.87],[1.9,.82],[2,.81],[3.1,.80],[3.2,.75],[3.8,.665],[7.2,.44],[8.6,.44]];
var kmLH = [[0,.99],[.3,.96],[.5,.9],[.7,.85],[.9,.78],[1.1,.74],[1.3,.7],[1.5,.66],[1.7,.6],[1.9,.55],[2,.52],[2.3,.49],[2.5,.44],[2.7,.4],[2.9,.37],[3.1,.34],[3.5,.31],[4.1,.29],[4.15,.23],[4.5,.2],[5.5,.18],[6,.165],[6.4,.14],[19.9,.14]];
var kmLL = [[0,1],[.4,.97],[.8,.94],[1.2,.9],[1.6,.88],[2.2,.86],[2.6,.8],[3.1,.76],[3.3,.72],[3.6,.68],[4.1,.65],[4.3,.6],[4.6,.57],[4.9,.5],[5.2,.485],[6.3,.46],[7.3,.36],[8.6,.355],[8.7,.31],[13.6,.31]];
var censorHH = [[1.1,.88],[1.5,.86],[2.1,.79],[2.4,.76],[2.6,.73],[3,.71],[3.2,.68],[3.5,.58],[3.7,.505],[4,.505],[4.2,.47],[4.6,.47],[4.9,.47],[5.5,.47],[6,.47],[6.5,.47],[7.3,.4],[7.6,.4],[10.3,.3],[18.5,.3],[19.3,.3]];
var censorHL = [[.9,.95],[1.2,.9],[2.1,.81],[2.6,.81],[3.5,.75],[3.7,.75],[4.4,.665],[5.2,.665],[7.6,.44],[8.1,.44],[8.4,.44]];
var censorLH = [[.4,.96],[.6,.9],[.7,.9],[.9,.85],[1.1,.78],[1.2,.74],[1.4,.7],[1.5,.7],[1.6,.66],[1.7,.66],[1.8,.6],[1.9,.6],[2,.55],[2.2,.52],[2.4,.49],[2.6,.44],[2.8,.4],[3,.37],[3.2,.34],[3.4,.34],[3.7,.31],[4,.31],[4.3,.23],[4.7,.2],[5,.2],[5.4,.2],[5.8,.18],[6.2,.165],[6.5,.14],[7.1,.14],[7.8,.14],[8.4,.14],[10.1,.14],[19.9,.14]];
var censorLL = [[.3,1],[.6,.97],[.9,.94],[1.1,.94],[1.4,.9],[1.7,.88],[2,.88],[2.3,.86],[2.6,.8],[2.9,.8],[3.2,.76],[3.5,.72],[3.9,.68],[4.2,.65],[4.4,.6],[4.7,.57],[5.1,.5],[5.4,.485],[5.8,.485],[6.1,.485],[6.6,.46],[7,.46],[7.3,.46],[8.7,.31],[9.2,.31],[10,.31],[11,.31],[13,.31],[13.5,.31]];

// ---------- colours and helpers ----------
var RED = '#b31a22', GREEN = '#0f6b5e', PANEL = '#153f4e';
var palette = ['#dcdee0', '#9c1c20', '#e55c5a', '#5bb5de', '#ef9a9a', '#d91c1c', '#a8cde0', '#1d72ad', RED, GREEN];
var GREY = 0, MUT = 1, GAIN = 2, LOSS = 3, PINK = 4, HIGHGAIN = 5, LIGHTBLUE = 6, HIGHLOSS = 7, PASHIGH = 8, PASLOW = 9;
var SANS = '"Liberation Sans", Arial, sans-serif';
var PLUS = 'path://M4.2 0h1.6v4.2H10v1.6H5.8V10H4.2V5.8H0V4.2h4.2z';
var ROW = 48.85;

var grids = [], xAxes = [], yAxes = [], series = [], graphic = [];

function text(x, y, str, size, opts, scaleX) {
    graphic.push({
        type: 'text', x: x, y: y, z: 50, silent: true, scaleX: scaleX || 1,
        style: Object.assign({text: str, fontSize: size, fontFamily: SANS, fill: '#111', textVerticalAlign: 'middle', textBaseline: 'middle'}, opts || {})
    });
}

function addGrid(left, top, width, height, extra) {
    grids.push(Object.assign({left: left, top: top, width: width, height: height, containLabel: false}, extra || {}));
    return grids.length - 1;
}

function hiddenX(g) {
    xAxes.push({gridIndex: g, type: 'value', min: 18, max: 1536, show: false});
    return xAxes.length - 1;
}

function fromCrop(v) {
    return 18 + (v - 109) * 1518 / 948;
}

function crop(runs) {
    return runs.map(function (x) { return [fromCrop(x[0]), fromCrop(x[1])]; });
}

function cells(runs, row, colour) {
    return runs.map(function (r) { return [r[0], r[1], row, colour]; });
}

function renderCell(params, api) {
    var a = api.coord([api.value(0), api.value(2)]);
    var b = api.coord([api.value(1), api.value(2)]);
    var h = api.size([0, 1])[1] * 0.95;
    return {
        type: 'rect',
        shape: {x: a[0], y: a[1] - h / 2, width: b[0] - a[0], height: h},
        style: {fill: palette[api.value(3)]}
    };
}

var groupSpan = [[18, 765], [776, 1536]];

// one oncoprint block: % labels, coloured cells, dark name panel and share bars
function addBlock(top, names, pct, data, highShare, barLeft, barWidth, panelWidth, lastAxis) {
    var height = names.length * ROW;
    var g = addGrid(89, top, 775, height);
    var xi = hiddenX(g);
    yAxes.push({gridIndex: g, type: 'category', inverse: true, data: names, show: false});
    series.push({
        type: 'custom', xAxisIndex: xi, yAxisIndex: yAxes.length - 1,
        encode: {x: [0, 1], y: 2}, renderItem: renderCell, data: data, silent: true, animation: false
    });

    var p = addGrid(869.5, top, panelWidth, height, {show: true, backgroundColor: PANEL, borderColor: '#0a0a0a', borderWidth: 2});
    xAxes.push({gridIndex: p, type: 'value', show: false});
    yAxes.push({
        gridIndex: p, type: 'category', inverse: true, data: names,
        axisLine: {show: false}, axisTick: {show: false}, axisLabel: {show: false},
        splitLine: {show: true, lineStyle: {color: '#0a0a0a', width: 2}}
    });

    // the source type is condensed, none is installed, so the labels are squeezed
    names.forEach(function (name, i) {
        var y = top + (i + .5) * ROW + 2;
        text(80, y, pct[i], 35, {textAlign: 'right', fill: '#1a1a1a'}, .83);
        text(871.5, y, name, 35, {fontWeight: 'bold', fontStyle: 'italic', fill: '#fff'}, .845);
    });

    if (highShare) {
        var b = addGrid(barLeft, top, barWidth, height);
        xAxes.push(lastAxis ? {
            gridIndex: b, type: 'value', min: 0, max: 1, position: 'bottom',
            name: 'PCT', nameLocation: 'middle', nameGap: 58,
            nameTextStyle: {fontSize: 34, color: '#1a1a1a', fontFamily: SANS},
            axisLine: {show: true, onZero: false, lineStyle: {color: '#222', width: 2}},
            axisTick: {show: true, length: 10, lineStyle: {color: '#222', width: 2}, customValues: [0, .5, 1]},
            axisLabel: {rotate: 90, fontSize: 22, color: '#333', fontFamily: SANS, margin: 8, customValues: [0, .5, 1]},
            splitLine: {show: false}
        } : {gridIndex: b, type: 'value', min: 0, max: 1, show: false});
        yAxes.push({gridIndex: b, type: 'category', inverse: true, data: names, show: false});
        var xb = xAxes.length - 1, yb = yAxes.length - 1;
        series.push({type: 'bar', xAxisIndex: xb, yAxisIndex: yb, stack: 'pct' + b, barWidth: 30, data: highShare, itemStyle: {color: RED}, silent: true, animation: false});
        series.push({type: 'bar', xAxisIndex: xb, yAxisIndex: yb, stack: 'pct' + b, barWidth: 30, data: highShare.map(function (v) { return 1 - v; }), itemStyle: {color: GREEN}, silent: true, animation: false});
    }
}

// ---------- panel A ----------
var tmbValues = tmbHigh.concat([null, null, null], tmbLow);
var tmbGrid = addGrid(89, 97.5, 775, 211.5);
xAxes.push({gridIndex: tmbGrid, type: 'category', data: tmbValues.map(function (v, i) { return i; }), show: false});
yAxes.push({
    gridIndex: tmbGrid, type: 'value', min: 0, max: 1.052,
    axisLine: {show: true, onZero: false, lineStyle: {color: '#111', width: 2}},
    axisTick: {show: true, length: 8, lineStyle: {color: '#111', width: 2}, customValues: [0, .5, 1]},
    axisLabel: {show: false},
    splitLine: {show: false}
});
series.push({type: 'bar', xAxisIndex: xAxes.length - 1, yAxisIndex: yAxes.length - 1, barWidth: 1.7, data: tmbValues, itemStyle: {color: '#3f80b8'}, silent: true, animation: false});
text(74, 110, '1', 28, {textAlign: 'right', fill: '#222'}, .83);
text(74, 210, '0.5', 28, {textAlign: 'right', fill: '#222'}, .83);
text(74, 311, '0', 28, {textAlign: 'right', fill: '#222'}, .83);

var pasGrid = addGrid(89, 312, 775, 42);
var pasX = hiddenX(pasGrid);
yAxes.push({gridIndex: pasGrid, type: 'category', data: ['PAS'], show: false});
series.push({
    type: 'custom', xAxisIndex: pasX, yAxisIndex: yAxes.length - 1, encode: {x: [0, 1], y: 2},
    silent: true, animation: false,
    renderItem: function (params, api) {
        var a = api.coord([api.value(0), 0]);
        var b = api.coord([api.value(1), 0]);
        var h = api.size([0, 1])[1];
        return {type: 'rect', shape: {x: a[0], y: a[1] - h / 2, width: b[0] - a[0], height: h}, style: {fill: palette[api.value(3)]}};
    },
    data: [[groupSpan[0][0], groupSpan[0][1], 0, PASHIGH], [groupSpan[1][0], groupSpan[1][1], 0, PASLOW]]
});

function background(rowCount) {
    var out = [];
    for (var r = 0; r < rowCount; r++) {
        out = out.concat(cells(groupSpan, r, GREY));
    }
    return out;
}

var mutData = background(mutGenes.length);
mutRuns.forEach(function (runs, r) { mutData = mutData.concat(cells(runs, r, MUT)); });
addBlock(362.3, mutGenes, mutPct, mutData, mutHighShare, 1057, 190, 179.5);

var armData = background(armNames.length);
armGainRuns.forEach(function (runs, r) { armData = armData.concat(cells(runs, r, GAIN)); });
armLossRuns.forEach(function (runs, r) { armData = armData.concat(cells(runs, 13 + r, LOSS)); });
armData = armData.concat(cells(crop(loss14qRuns), 19, LOSS));
addBlock(1356.8, armNames, armPct, armData, armHighShare, 1095.5, 151.5, 218.5, true);

var cnaData = [];
cnaGenes.forEach(function (g, r) { cnaData = cnaData.concat(cells(groupSpan, r, LIGHTBLUE)); });
cnaPink.forEach(function (runs, r) { cnaData = cnaData.concat(cells(crop(runs), r, PINK)); });
cnaDark.forEach(function (runs, r) { cnaData = cnaData.concat(cells(crop(runs), r, HIGHLOSS)); });
cnaRed.forEach(function (runs, r) { cnaData = cnaData.concat(cells(crop(runs), r, HIGHGAIN)); });
addBlock(2351.5, cnaGenes, cnaPct, cnaData, null, 0, 0, 218.5);

// ---------- panel B ----------
var bGrid = addGrid(1473, 206, 580, 572, {show: true, backgroundColor: '#f5f1e8', borderColor: '#111', borderWidth: 4, z: 0});
var bTicksX = [1, 2, 3, 4], bTicksY = [0, .25, .5, .75, 1];
xAxes.push({
    gridIndex: bGrid, type: 'value', min: .02, max: 4.4, name: 'PAS score', nameLocation: 'middle', nameGap: 50,
    nameTextStyle: {fontSize: 38.5, fontWeight: 'bold', fontStyle: 'italic', color: '#111', fontFamily: SANS},
    axisLine: {show: false, onZero: false},
    axisTick: {show: true, length: 8, lineStyle: {color: '#333', width: 3}, customValues: bTicksX},
    axisLabel: {fontSize: 30, fontWeight: 'bold', fontStyle: 'italic', color: '#4d4d4d', fontFamily: SANS, margin: 12, customValues: bTicksX},
    splitLine: {show: false}
});
yAxes.push({
    gridIndex: bGrid, type: 'value', min: -.0467, max: 1.047, name: 'riskScore', nameLocation: 'middle', nameGap: 99,
    nameTextStyle: {fontSize: 36, fontWeight: 'bold', fontStyle: 'italic', color: '#111', fontFamily: SANS},
    axisLine: {show: false, onZero: false},
    axisTick: {show: true, length: 8, lineStyle: {color: '#333', width: 3}, customValues: bTicksY},
    axisLabel: {fontSize: 34, fontWeight: 'bold', fontStyle: 'italic', color: '#4d4d4d', fontFamily: SANS, margin: 18, customValues: bTicksY, formatter: function (v) { return v.toFixed(2); }},
    splitLine: {show: false}
});
var bx = xAxes.length - 1, by = yAxes.length - 1;
series.push({type: 'scatter', xAxisIndex: bx, yAxisIndex: by, symbolSize: [18, 16], data: scatterHigh, itemStyle: {color: RED, opacity: 1}, silent: true, animation: false});
series.push({type: 'scatter', xAxisIndex: bx, yAxisIndex: by, symbolSize: [18, 16], data: scatterLow, itemStyle: {color: GREEN, opacity: 1}, silent: true, animation: false});
series.push({
    type: 'custom', xAxisIndex: bx, yAxisIndex: by, silent: true, animation: false, data: [[1, 0]], encode: {x: 0, y: 1},
    renderItem: function (params, api) {
        var pts = [], i;
        for (i = 0; i < fitX.length; i++) { pts.push(api.coord([fitX[i], fitUpper[i]])); }
        for (i = fitX.length - 1; i >= 0; i--) { pts.push(api.coord([fitX[i], fitLower[i]])); }
        return {type: 'polygon', shape: {points: pts}, style: {fill: 'rgba(80,172,182,0.58)'}};
    }
});
series.push({
    type: 'line', xAxisIndex: bx, yAxisIndex: by, showSymbol: false, silent: true, animation: false,
    data: fitX.map(function (x, i) { return [x, fitLine[i]]; }), lineStyle: {color: '#5b7ba6', width: 7}
});

// ---------- panel C ----------
var cGrid = addGrid(1473, 900, 565.5, 610.5, {show: true, backgroundColor: '#f5f1e8', borderColor: '#111', borderWidth: 6});
var MAROON = '#3f1418';
xAxes.push({
    gridIndex: cGrid, type: 'value', min: .413, max: 2.581,
    axisLine: {show: false, onZero: false},
    axisTick: {show: true, length: 10, lineStyle: {color: '#222', width: 3}, customValues: cGroups},
    axisLabel: {fontSize: 41, fontWeight: 'bold', fontStyle: 'italic', color: MAROON, fontFamily: SANS, margin: 19, customValues: cGroups, formatter: function (v) { return v === 1 ? 'low' : 'high'; }},
    splitLine: {show: false}
});
yAxes.push({
    gridIndex: cGrid, type: 'value', min: -.045, max: 1.045, name: 'Standardized TMB', nameLocation: 'middle', nameGap: 114,
    nameTextStyle: {fontSize: 46, fontWeight: 'bold', fontStyle: 'italic', color: MAROON, fontFamily: SANS},
    axisLine: {show: false, onZero: false},
    axisTick: {show: true, length: 10, lineStyle: {color: '#222', width: 3}, customValues: cGridMajor},
    axisLabel: {fontSize: 43, fontWeight: 'bold', fontStyle: 'italic', color: MAROON, fontFamily: SANS, margin: 14, customValues: cGridMajor, formatter: function (v) { return v.toFixed(2); }},
    splitLine: {show: false}
});
var cx = xAxes.length - 1, cy = yAxes.length - 1;
function cSeries(renderItem) {
    series.push({type: 'custom', xAxisIndex: cx, yAxisIndex: cy, silent: true, animation: false, data: [[1, 0]], encode: {x: 0, y: 1}, renderItem: renderItem});
}
cSeries(function (params, api) {
    var kids = [];
    function line(a, b, colour, width, dash) {
        var p = api.coord(a), q = api.coord(b);
        kids.push({type: 'line', shape: {x1: p[0], y1: p[1], x2: q[0], y2: q[1]}, style: {stroke: colour, lineWidth: width, lineDash: dash}});
    }
    cGridMinor.forEach(function (v) { line([.42, v], [2.575, v], '#ffffff', 3); });
    cGridMajor.forEach(function (v) { line([.46, v], [2.575, v], '#ccd5d8', 3, [28, 14, 6, 14]); });
    cGroups.forEach(function (v) { line([v, -.04], [v, 1.04], '#ccd5d8', 3, [28, 14, 6, 14]); });
    return {type: 'group', children: kids};
});
function violin(center, ys, widths, fill) {
    cSeries(function (params, api) {
        var pts = [], i;
        for (i = 0; i < ys.length; i++) { pts.push(api.coord([center + widths[i], ys[i]])); }
        for (i = ys.length - 1; i >= 0; i--) { pts.push(api.coord([center - widths[i], ys[i]])); }
        return {type: 'polygon', shape: {points: pts, smooth: 0.2}, style: {fill: fill, stroke: '#0a0a0a', lineWidth: 6}};
    });
}
function notchedBox(center, box, fill) {
    var w = .38, n = .187;
    cSeries(function (params, api) {
        var raw = [[center - w, box.q1], [center + w, box.q1], [center + w, box.notchLo], [center + n, box.med], [center + w, box.notchHi], [center + w, box.q3],
            [center - w, box.q3], [center - w, box.notchHi], [center - n, box.med], [center - w, box.notchLo]];
        var a = api.coord([center - n, box.med]), b = api.coord([center + n, box.med]);
        return {type: 'group', children: [
            {type: 'polygon', shape: {points: raw.map(function (p) { return api.coord(p); })}, style: {fill: fill, stroke: '#0a0a0a', lineWidth: 7, lineJoin: 'miter'}},
            {type: 'line', shape: {x1: a[0], y1: a[1], x2: b[0], y2: b[1]}, style: {stroke: '#0a0a0a', lineWidth: 10}}
        ]};
    });
}
violin(1, violinLowY, violinLow, '#aab5a8');
violin(2, violinHighY, violinHigh, '#e0a784');
notchedBox(1, boxLow, GREEN);
notchedBox(2, boxHigh, RED);
series.push({type: 'line', xAxisIndex: cx, yAxisIndex: cy, showSymbol: false, silent: true, animation: false, data: [[1.02, .951], [1.99, .951]], lineStyle: {color: '#111', width: 2}});
series.push({type: 'scatter', xAxisIndex: cx, yAxisIndex: cy, symbolSize: 18, data: jitterLow, itemStyle: {color: GREEN, borderColor: '#0a0a0a', borderWidth: 2, opacity: 1}, silent: true, animation: false});
series.push({type: 'scatter', xAxisIndex: cx, yAxisIndex: cy, symbolSize: 18, data: jitterHigh, itemStyle: {color: RED, borderColor: '#0a0a0a', borderWidth: 2, opacity: 1}, silent: true, animation: false});

// ---------- panel D ----------
var dGrid = addGrid(1468, 1715.4, 581, 526.2, {show: true, backgroundColor: '#f5f1e8', borderColor: '#111', borderWidth: 4});
var dYears = [0,1,2,3,4,5,6,7,8,9,10,11,12,13,14,15,16,17,18,19,20];
xAxes.push({
    gridIndex: dGrid, type: 'value', min: -.94, max: 20.94, name: 'Time(years)', nameLocation: 'middle', nameGap: 45,
    nameTextStyle: {fontSize: 32, fontWeight: 'bold', fontStyle: 'italic', color: '#111', fontFamily: SANS},
    axisLine: {show: false, onZero: false},
    axisTick: {show: true, length: 7, lineStyle: {color: '#222', width: 2}, customValues: dYears},
    // the year labels collide on purpose and ECharts would drop one, so they are free text below
    axisLabel: {show: false},
    splitLine: {show: false}
});
yAxes.push({
    gridIndex: dGrid, type: 'value', min: -.045, max: 1.0456, name: 'Survival probability', nameLocation: 'middle', nameGap: 74,
    nameTextStyle: {fontSize: 33, fontWeight: 'bold', fontStyle: 'italic', color: '#111', fontFamily: SANS},
    axisLine: {show: false, onZero: false},
    axisTick: {show: true, length: 7, lineStyle: {color: '#222', width: 2}, customValues: bTicksY},
    axisLabel: {fontSize: 27, color: '#222', fontFamily: SANS, margin: 10, customValues: bTicksY, formatter: function (v) { return v.toFixed(2); }},
    splitLine: {show: false}
});
var dx = xAxes.length - 1, dy = yAxes.length - 1;
function km(name, data, censor, colour) {
    series.push({
        type: 'line', name: name, xAxisIndex: dx, yAxisIndex: dy, step: 'end', showSymbol: false, symbol: PLUS, symbolSize: 18,
        silent: true, animation: false, data: data, lineStyle: {color: colour, width: 5}, itemStyle: {color: colour}
    });
    series.push({type: 'scatter', xAxisIndex: dx, yAxisIndex: dy, symbol: PLUS, symbolSize: 20, silent: true, animation: false, data: censor, itemStyle: {color: colour, opacity: 1}});
}
var kmNames = ['H\u2212TMB+high PAS', 'H\u2212TMB+low PAS', 'L\u2212TMB+high PAS', 'L\u2212TMB+low PAS'];
km(kmNames[0], kmHH, censorHH, RED);
km(kmNames[1], kmHL, censorHL, GREEN);
km(kmNames[2], kmLH, censorLH, '#1f9c82');
km(kmNames[3], kmLL, censorLL, '#3fb0cb');
dYears.forEach(function (year) {
    text(1493 + year * 26.55, 2265, String(year), 27, {textAlign: 'center', fill: '#222'});
});

// ---------- free text and legend box ----------
var BOLD = {fontWeight: 'bold'}, BI = {fontWeight: 'bold', fontStyle: 'italic'};
text(18, 46, '(A)', 32, BOLD);
text(1458, 56, '(B)', 32, BOLD);
text(1458, 836, '(C)', 32, BOLD);
text(1466, 1610, '(D)', 32, BOLD);
text(868, 205, 'TMB', 35);
text(868, 336, 'PAS', 35);
text(1468, 1681, 'Survival curve', 37, BI);
text(1498, 258, '{i|R} = 0.17, {i|p} = 0.00024', 37.5, {rich: {i: {fontStyle: 'italic', fontSize: 37.5, fontFamily: SANS, fill: '#111'}}});
text(1694, 936, '0.0027', 40);
text(1504, 2127, 'p<0.001', 39);
text(1815, 1732, 'PAS\u2212TMB', 25.5);

graphic.push({type: 'rect', z: 40, silent: true, shape: {x: 1330, y: 2355, width: 777, height: 238, r: 62}, style: {fill: '#fff', stroke: '#111', lineWidth: 3}});
function swatch(x, y, colour) {
    graphic.push({type: 'rect', z: 50, silent: true, shape: {x: x, y: y, width: 31, height: 31}, style: {fill: colour}});
}
var legendText = {fontWeight: 'bold', fontStyle: 'italic'};
text(1358, 2387, 'PAS', 29.5, legendText);
text(1476, 2391, 'CNA (arm\u2212level)', 29.5, legendText);
text(1729, 2391, 'CNA (gene\u2212level)', 29.5, legendText);
swatch(1358, 2415, palette[PASHIGH]); text(1401, 2432, 'high', 29.5, legendText);
swatch(1358, 2449, palette[PASLOW]); text(1401, 2466, 'low', 29.5, legendText);
swatch(1476, 2418, palette[GAIN]); text(1519, 2435, 'Gain', 29.5, legendText);
swatch(1476, 2452, palette[LOSS]); text(1519, 2469, 'Loss', 29.5, legendText);
text(1475, 2514, 'Alterations', 29.5, legendText);
swatch(1475, 2541, palette[MUT]); text(1518, 2558, 'Mutated', 29.5, legendText);
swatch(1728, 2418, palette[PINK]); text(1770, 2435, 'Gain', 29.5, legendText);
swatch(1728, 2452, palette[HIGHGAIN]); text(1770, 2469, 'High_balanced_gain', 29.5, legendText);
swatch(1728, 2485, palette[LIGHTBLUE]); text(1770, 2502, 'Loss', 29.5, legendText);
swatch(1728, 2519, palette[HIGHLOSS]); text(1770, 2536, 'High_balanced_loss', 29.5, legendText);

var chart = echarts.init(document.getElementById('chart'));
chart.setOption({
    animation: false,
    backgroundColor: '#fff',
    textStyle: {fontFamily: SANS},
    legend: {
        left: 1818, top: 1764, orient: 'vertical', padding: 0, itemGap: 17, itemWidth: 36, itemHeight: 18,
        data: kmNames, selectedMode: false, lineStyle: {width: 5},
        textStyle: {fontSize: 24, color: '#222', fontFamily: SANS, padding: [0, 0, 0, 8]}
    },
    grid: grids,
    xAxis: xAxes,
    yAxis: yAxes,
    series: series,
    graphic: graphic
});
</script>
</body>
</html>
